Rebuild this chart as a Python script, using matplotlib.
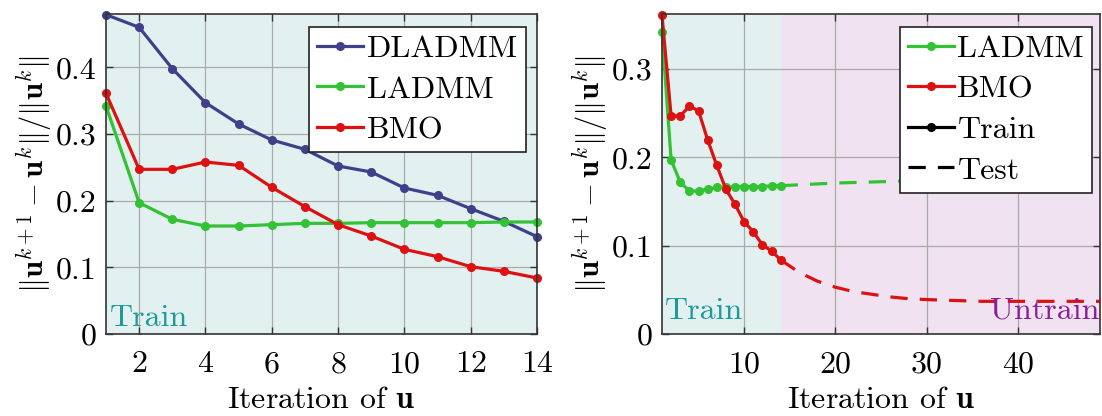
import matplotlib
matplotlib.use('Agg')
import matplotlib.pyplot as plt

plt.rcParams['font.family'] = ['serif']
plt.rcParams['font.serif'] = ['cmr10', 'DejaVu Serif']
plt.rcParams['mathtext.fontset'] = 'cm'
plt.rcParams['axes.formatter.use_mathtext'] = True

# values
iters_train = list(range(1, 15))
dladmm = [0.479, 0.460, 0.398, 0.347, 0.315, 0.291, 0.277, 0.252, 0.243, 0.219, 0.208, 0.188, 0.169, 0.146]
ladmm = [0.342, 0.197, 0.172, 0.162, 0.162, 0.164, 0.166, 0.166, 0.167, 0.167, 0.167, 0.167, 0.168, 0.168]
bmo = [0.361, 0.247, 0.247, 0.258, 0.253, 0.220, 0.191, 0.164, 0.147, 0.127, 0.116, 0.101, 0.094, 0.084]

iters_test_bmo = [14, 16, 18, 20, 22, 24, 26, 28, 30, 33, 36, 40, 44, 49]
bmo_test = [0.084, 0.070, 0.060, 0.053, 0.048, 0.045, 0.042, 0.040, 0.039, 0.038, 0.037, 0.037, 0.037, 0.037]
iters_test_ladmm = [14, 20, 30, 40, 49]
ladmm_test = [0.168, 0.171, 0.174, 0.176, 0.178]

left_yticks = [0, 0.1, 0.2, 0.3, 0.4]
left_ylabels = ['0', '0.1', '0.2', '0.3', '0.4']
left_xticks = [2, 4, 6, 8, 10, 12, 14]
right_yticks = [0, 0.1, 0.2, 0.3]
right_ylabels = ['0', '0.1', '0.2', '0.3']
right_xticks = [10, 20, 30, 40]

c_dl = '#40408a'
c_la = '#33c233'
c_bmo = '#dd1111'
c_train_bg = '#e2f1f0'
c_untrain_bg = '#f0e2f0'

fs = 23
lw = 2.3
ms = 5.5
dash = (5.4, 3.8)

fig = plt.figure(figsize=(11.02, 4.16), dpi=100)
ax1 = fig.add_axes([106 / 1102, 82 / 416, 431 / 1102, 320 / 416])
ax2 = fig.add_axes([662 / 1102, 82 / 416, 438 / 1102, 320 / 416])


def style(ax):
    ax.tick_params(direction='in', top=True, right=True, length=5, width=1,
                   labelsize=fs, color='#333333', pad=7)
    ax.tick_params(axis='x', pad=12)
    for s in ax.spines.values():
        s.set_color('#333333')
        s.set_linewidth(1.2)
    ax.grid(True, color='#aaaaaa', linewidth=0.9)
    ax.set_xlabel(r'Iteration of $\mathbf{u}$', fontsize=fs, labelpad=6)
    ax.set_ylabel(r'$\|\mathbf{u}^{k+1}-\mathbf{u}^{k}\|/\|\mathbf{u}^{k}\|$', fontsize=fs - 1, labelpad=1)


def make_legend(ax, handles, labels, right):
    leg = ax.legend(handles, labels, loc='upper right', bbox_to_anchor=(right, 0.96), fontsize=fs,
                    frameon=True, fancybox=False, edgecolor='#222222', handlelength=1.45,
                    handletextpad=0.1, borderpad=0.25, labelspacing=0.38, borderaxespad=0,
                    framealpha=1)
    leg.get_frame().set_linewidth(1.2)
    return leg


# left panel
ax1.axvspan(1, 14, color=c_train_bg, zorder=0, lw=0)
h1, = ax1.plot(iters_train, dladmm, '-o', color=c_dl, lw=lw, ms=ms, clip_on=False)
h2, = ax1.plot(iters_train, ladmm, '-o', color=c_la, lw=lw, ms=ms, clip_on=False)
h3, = ax1.plot(iters_train, bmo, '-o', color=c_bmo, lw=lw, ms=ms, clip_on=False)
ax1.set_xlim(1, 14)
ax1.set_ylim(0, 0.48)
ax1.set_xticks(left_xticks)
ax1.set_yticks(left_yticks)
ax1.set_yticklabels(left_ylabels)
style(ax1)
ax1.text(1.12, 0.012, 'Train', color='#1f9a9a', fontsize=fs)
make_legend(ax1, [h1, h2, h3], ['DLADMM', 'LADMM', 'BMO'], 0.974)

# right panel
ax2.axvspan(1, 14, color=c_train_bg, zorder=0, lw=0)
ax2.axvspan(14, 49, color=c_untrain_bg, zorder=0, lw=0)
ax2.plot(iters_test_ladmm, ladmm_test, '--', color=c_la, lw=lw, dashes=dash, clip_on=False)
ax2.plot(iters_test_bmo, bmo_test, '--', color=c_bmo, lw=lw, dashes=dash, clip_on=False)
h_la, = ax2.plot(iters_train, ladmm, '-o', color=c_la, lw=lw, ms=ms, clip_on=False)
h_bmo, = ax2.plot(iters_train, bmo, '-o', color=c_bmo, lw=lw, ms=ms, clip_on=False)
ax2.set_xlim(1, 49)
ax2.set_ylim(0, 0.3625)
ax2.set_xticks(right_xticks)
ax2.set_yticks(right_yticks)
ax2.set_yticklabels(right_ylabels)
style(ax2)
ax2.text(1.3, 0.017, 'Train', color='#1f9a9a', fontsize=fs)
ax2.text(36.9, 0.017, 'Untrain', color='#8a1f9a', fontsize=fs)
h_tr, = ax2.plot([], [], '-o', color='black', lw=lw, ms=ms)
h_te, = ax2.plot([], [], '--', color='black', lw=lw, dashes=dash)
make_legend(ax2, [h_la, h_bmo, h_tr, h_te], ['LADMM', 'BMO', 'Train', 'Test'], 0.982)

plt.savefig('out.png', dpi=100)
